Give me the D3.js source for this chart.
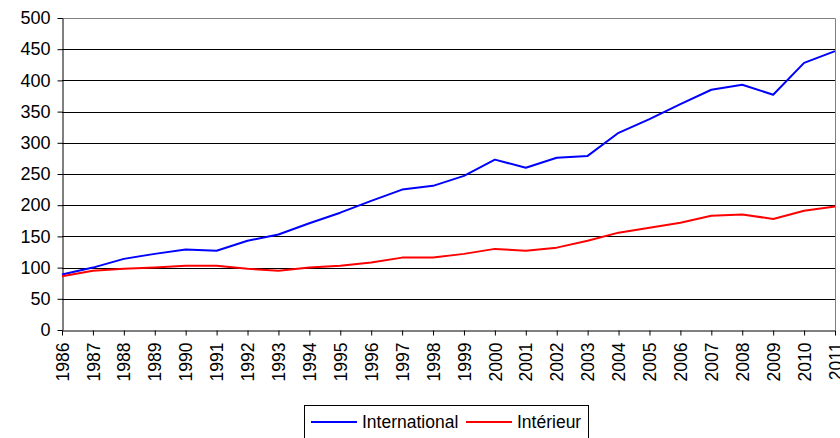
<!DOCTYPE html>
<html>
<head>
<meta charset="utf-8">
<script src="https://cdn.jsdelivr.net/npm/d3@7"></script>
<style>
  html, body { margin: 0; padding: 0; background: #fff; }
  svg { display: block; font-family: "Liberation Sans", Arial, sans-serif; }
</style>
</head>
<body>
<div id="chart"></div>
<script>
const years = [1986, 1987, 1988, 1989, 1990, 1991, 1992, 1993, 1994, 1995, 1996, 1997, 1998,
  1999, 2000, 2001, 2002, 2003, 2004, 2005, 2006, 2007, 2008, 2009, 2010, 2011];
const international = [89, 100, 114, 122, 129, 127, 143, 153, 171, 188, 207, 225, 231,
  247, 273, 260, 276, 279, 316, 338, 362, 385, 393, 377, 428, 447];
const interieur = [86, 95, 98, 100, 103, 103, 98, 95, 100, 103, 108, 116, 116,
  122, 130, 127, 132, 143, 156, 164, 172, 183, 185, 178, 191, 198];
const yTicks = [0, 50, 100, 150, 200, 250, 300, 350, 400, 450, 500];
const seriesNames = ["International", "Intérieur"];
const seriesColors = ["#0000ff", "#ff0000"];

const width = 840;
const height = 438;
const marginLeft = 62;
const marginRight = 5;
const marginTop = 18;
const marginBottom = 108;

const x = d3.scalePoint(years, [marginLeft, width - marginRight]);
const y = d3.scaleLinear([0, 500], [height - marginBottom, marginTop]);

const svg = d3.select("#chart")
  .append("svg")
  .attr("width", width)
  .attr("height", height)
  .attr("viewBox", [0, 0, width, height]);

// grid lines
svg.append("g")
  .selectAll("line")
  .data(yTicks.filter((d) => d > 0 && d < 500))
  .join("line")
  .attr("x1", marginLeft)
  .attr("x2", width - marginRight)
  .attr("y1", (d) => Math.round(y(d)) + 0.5)
  .attr("y2", (d) => Math.round(y(d)) + 0.5)
  .attr("stroke", "#000");

// plot border (top and right)
svg.append("path")
  .attr("d", `M${marginLeft},${Math.round(y(500)) + 0.5}H${width - marginRight + 0.5}V${Math.round(y(0))}`)
  .attr("fill", "none")
  .attr("stroke", "#808080");

// y-axis
svg.append("g")
  .attr("transform", `translate(${marginLeft + 0.5},0)`)
  .call(d3.axisLeft(y).tickValues(yTicks).tickSize(5).tickSizeOuter(0).tickPadding(7))
  .call((g) => g.select(".domain").attr("stroke", "#000"))
  .call((g) => g.selectAll(".tick line").attr("stroke", "#000"))
  .call((g) => g.selectAll(".tick text")
    .attr("font-size", 18)
    .attr("font-family", "Liberation Sans, Arial, sans-serif")
    .attr("fill", "#000"));

// x-axis
svg.append("g")
  .attr("transform", `translate(0,${Math.round(y(0)) + 0.5})`)
  .call(d3.axisBottom(x).tickSize(5).tickSizeOuter(0))
  .call((g) => g.select(".domain").attr("stroke", "#000"))
  .call((g) => g.selectAll(".tick line").attr("stroke", "#000"))
  .call((g) => g.selectAll(".tick text")
    .attr("font-size", 17.5)
    .attr("font-family", "Liberation Sans, Arial, sans-serif")
    .attr("fill", "#000")
    .attr("transform", "rotate(-90)")
    .attr("text-anchor", "end")
    .attr("x", -12)
    .attr("y", 0)
    .attr("dy", "0.35em"));

// lines
const line = d3.line()
  .x((d, i) => x(years[i]))
  .y((d) => y(d));

[international, interieur].forEach((values, k) => {
  svg.append("path")
    .datum(values)
    .attr("fill", "none")
    .attr("stroke", seriesColors[k])
    .attr("stroke-width", 2)
    .attr("stroke-linejoin", "round")
    .attr("d", line);
});

// legend
const legend = svg.append("g");
legend.append("rect")
  .attr("x", 304.5)
  .attr("y", 405.5)
  .attr("width", 284)
  .attr("height", 40)
  .attr("fill", "#fff")
  .attr("stroke", "#000");

const legendX = [311, 466];
seriesNames.forEach((name, i) => {
  legend.append("line")
    .attr("x1", legendX[i])
    .attr("x2", legendX[i] + 46)
    .attr("y1", 422)
    .attr("y2", 422)
    .attr("stroke", seriesColors[i])
    .attr("stroke-width", 2);
  legend.append("text")
    .attr("x", legendX[i] + 51)
    .attr("y", 422)
    .attr("dy", "0.35em")
    .attr("font-size", 17.5)
    .attr("fill", "#000")
    .text(name);
});
</script>
</body>
</html>
